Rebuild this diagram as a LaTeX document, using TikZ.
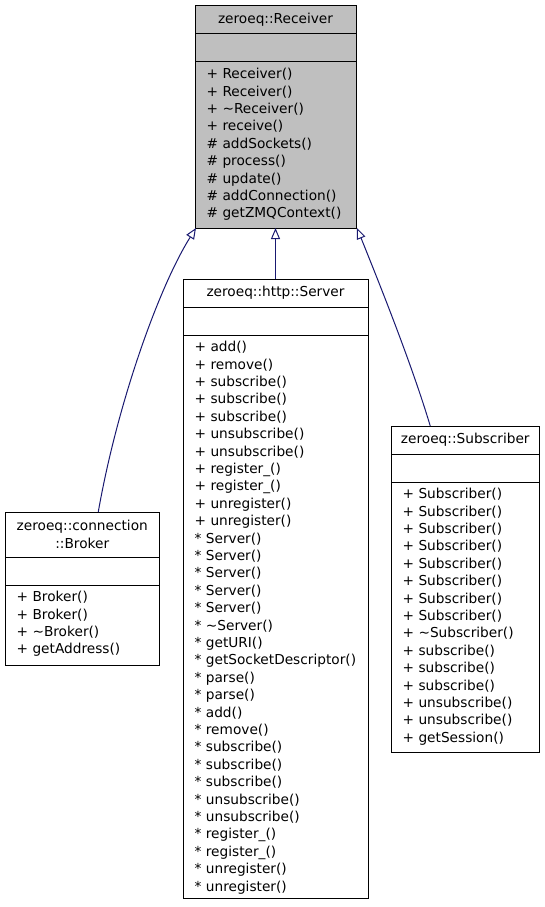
\documentclass[tikz,border=0pt]{standalone}
\usepackage{fontspec}
\setmainfont{DejaVu Sans}
\usetikzlibrary{positioning,arrows.meta}
\definecolor{edgeblue}{HTML}{191970}
\definecolor{basegray}{HTML}{BFBFBF}
\begin{document}
\begin{tikzpicture}[x=1pt,y=-1pt,font=\fontsize{13.7}{17.4}\selectfont,
		box/.style={draw,line width=1pt,inner sep=0pt,outer sep=0pt,fill=white,minimum width=#1},
		ops/.style={inner sep=0pt,align=left,below right=6pt and 11.5pt of #1},
		inh/.style={draw=edgeblue,line width=1pt,-{Triangle[open,length=11pt,width=9pt]}}]
	\useasboundingbox (0,0) rectangle (544,907);
	%=========================================== base class
	\node[box=161pt,minimum height=28pt,fill=basegray] (rcv) at (275.5,20) {zeroeq::Receiver};
	\node[box=161pt,minimum height=28pt,fill=basegray,below=0pt of rcv] (rcvattr) {};
	\node[box=161pt,minimum height=166pt,fill=basegray,below=0pt of rcvattr] (rcvops) {};
	\node[ops=rcvops.north west] (rcvlist) {+ Receiver()\\+ Receiver()\\+ \textasciitilde Receiver()\\+ receive()\\
		\# addSockets()\\\# process()\\\# update()\\\# addConnection()\\\# getZMQContext()};
	%=========================================== zeroeq::connection::Broker
	\node[box=154.5pt,minimum height=45pt,align=center] (brk) at (82.25,534.5) {zeroeq::connection\\::Broker};
	\node[box=154.5pt,minimum height=28pt,below=0pt of brk] (brkattr) {};
	\node[box=154.5pt,minimum height=80pt,below=0pt of brkattr] (brkops) {};
	\node[ops=brkops.north west] (brklist) {+ Broker()\\+ Broker()\\+ \textasciitilde Broker()\\+ getAddress()};
	%=========================================== zeroeq::http::Server
	\node[box=185pt,minimum height=28pt] (srv) at (275.5,293) {zeroeq::http::Server};
	\node[box=185pt,minimum height=28pt,below=0pt of srv] (srvattr) {};
	\node[box=185pt,minimum height=563pt,below=0pt of srvattr] (srvops) {};
	\node[ops=srvops.north west] (srvlist) {+ add()\\+ remove()\\+ subscribe()\\+ subscribe()\\+ subscribe()\\
		+ unsubscribe()\\+ unsubscribe()\\+ register\_()\\+ register\_()\\+ unregister()\\+ unregister()\\
		* Server()\\* Server()\\* Server()\\* Server()\\* Server()\\* \textasciitilde Server()\\* getURI()\\
		* getSocketDescriptor()\\* parse()\\* parse()\\* add()\\* remove()\\* subscribe()\\* subscribe()\\
		* subscribe()\\* unsubscribe()\\* unsubscribe()\\* register\_()\\* register\_()\\* unregister()\\
		* unregister()};
	%=========================================== zeroeq::Subscriber
	\node[box=148.5pt,minimum height=28pt] (sub) at (465.25,440) {zeroeq::Subscriber};
	\node[box=148.5pt,minimum height=28pt,below=0pt of sub] (subattr) {};
	\node[box=148.5pt,minimum height=270pt,below=0pt of subattr] (subops) {};
	\node[ops=subops.north west] (sublist) {+ Subscriber()\\+ Subscriber()\\+ Subscriber()\\+ Subscriber()\\
		+ Subscriber()\\+ Subscriber()\\+ Subscriber()\\+ Subscriber()\\+ \textasciitilde Subscriber()\\
		+ subscribe()\\+ subscribe()\\+ subscribe()\\+ unsubscribe()\\+ unsubscribe()\\+ getSession()};
	%=========================================== inheritance
	\draw[inh] (srv.north) -- (rcvops.south);
	\draw[inh] ([xshift=16pt]brk.north) .. controls (118,400) and (160,285) .. ([xshift=1pt]rcvops.south west);
	\draw[inh] ([xshift=-35pt]sub.north) .. controls (412,365) and (380,285) .. ([xshift=1pt]rcvops.south east);
\end{tikzpicture}
\end{document}
